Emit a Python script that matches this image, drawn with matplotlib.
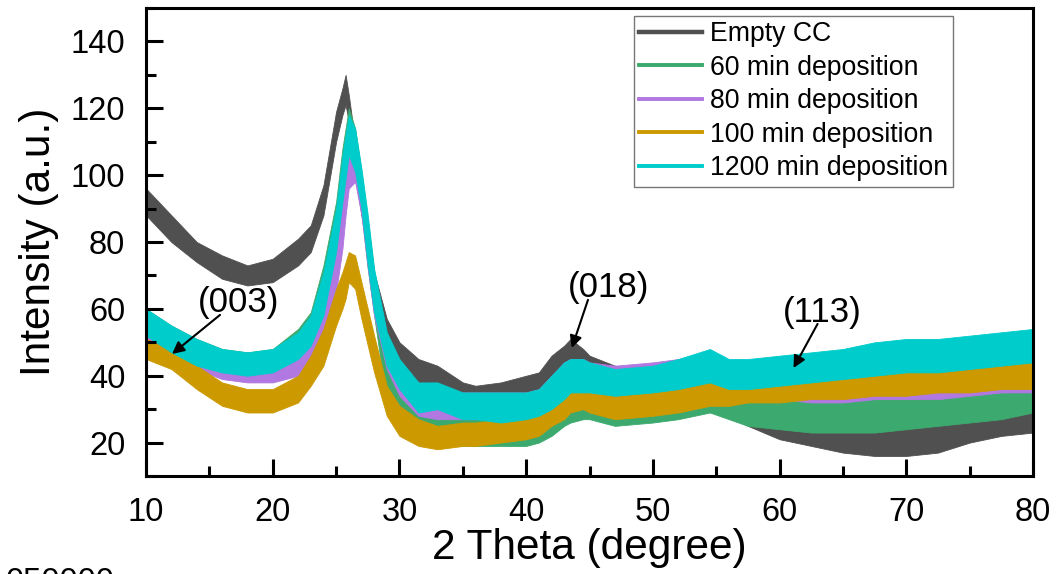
import matplotlib
matplotlib.use("Agg")
import matplotlib.pyplot as plt

plt.rcParams['font.family'] = ['Liberation Sans', 'DejaVu Sans']

two_theta = [10, 12, 14, 16, 18, 20, 22, 23, 24, 25, 25.5, 25.75, 26, 26.5, 27, 27.5, 28,
             29, 30, 31.5, 33, 35, 36, 38, 40, 41, 42, 43, 43.5, 44.5, 45, 47, 50,
             52, 54.5, 56, 57.5, 60, 62.5, 65, 67.5, 70, 72.5, 75, 77.5, 80]

# lower / upper edge of each noisy trace (a.u.)
empty_lo = [88, 80, 74, 69, 67, 68, 73, 77, 88, 110, 118, 121, 116, 100, 88, 76, 63,
            49, 42, 38, 35, 32, 32, 31, 33, 35, 38, 42, 43, 42, 40, 37, 35,
            34, 31, 28, 25, 21, 19, 17, 16, 16, 17, 20, 22, 23]
empty_hi = [96, 88, 80, 76, 73, 75, 81, 85, 97, 119, 126, 130, 124, 110, 98, 86, 71,
            57, 50, 45, 43, 38, 37, 38, 40, 41, 46, 49, 51, 48, 46, 43, 41,
            40, 39, 35, 32, 29, 27, 25, 25, 26, 27, 29, 31, 31]

dep60_lo = [52, 47, 43, 41, 40, 41, 45, 50, 60, 79, 94, 100, 107, 101, 89, 72, 58,
            32, 26, 21, 20, 19, 19, 19, 19, 20, 22, 25, 26, 27, 27, 25, 26,
            27, 29, 27, 25, 24, 23, 23, 23, 24, 25, 26, 27, 29]
dep60_hi = [60, 55, 51, 48, 47, 48, 54, 59, 73, 92, 108, 114, 120, 114, 101, 86, 70,
            50, 40, 34, 32, 31, 31, 31, 31, 32, 34, 38, 40, 40, 40, 38, 38,
            39, 41, 37, 33, 33, 32, 32, 33, 33, 34, 35, 36, 37]

dep80_lo = [51, 46, 42, 39, 38, 38, 40, 43, 50, 65, 78, 88, 96, 98, 88, 72, 58,
            42, 34, 28, 27, 27, 27, 27, 27, 28, 30, 33, 35, 36, 36, 35, 35,
            36, 37, 35, 34, 33, 32, 32, 33, 33, 33, 34, 35, 35]
dep80_hi = [58, 54, 50, 47, 45, 45, 48, 52, 62, 80, 92, 101, 109, 106, 98, 86, 70,
            52, 43, 36, 35, 35, 35, 35, 35, 36, 40, 44, 45, 45, 44, 43, 44,
            45, 47, 44, 42, 42, 43, 43, 44, 44, 45, 46, 46, 47]

dep100_lo = [45, 42, 36, 31, 29, 29, 32, 37, 43, 55, 60, 63, 68, 66, 57, 49, 41,
             28, 22, 19, 18, 19, 19, 20, 21, 22, 25, 27, 29, 30, 29, 27, 28,
             29, 31, 31, 32, 32, 33, 33, 34, 34, 35, 35, 36, 36]
dep100_hi = [51, 48, 43, 38, 36, 36, 40, 46, 54, 66, 71, 74, 77, 76, 68, 60, 52,
             37, 31, 27, 25, 26, 26, 27, 28, 29, 32, 34, 35, 36, 35, 34, 35,
             36, 39, 38, 40, 39, 39, 41, 41, 42, 42, 42, 43, 45]

dep1200_lo = [52, 47, 43, 41, 40, 41, 45, 49, 58, 77, 92, 99, 106, 101, 90, 73, 59,
              43, 36, 29, 30, 27, 27, 26, 27, 28, 30, 33, 35, 35, 35, 34, 35,
              36, 38, 36, 36, 37, 38, 39, 40, 41, 41, 42, 43, 44]
dep1200_hi = [60, 55, 51, 48, 47, 48, 53, 58, 71, 90, 106, 112, 118, 114, 102, 88, 72,
              53, 45, 38, 38, 35, 35, 35, 35, 36, 40, 44, 45, 45, 44, 42, 43,
              45, 48, 45, 45, 46, 47, 48, 50, 51, 51, 52, 53, 54]

labels = ['Empty CC', '60 min deposition', '80 min deposition',
          '100 min deposition', '1200 min deposition']
colors = ['#505050', '#3CAA6E', '#B078E0', '#CC9900', '#00CCCC']
bands = [(empty_lo, empty_hi), (dep60_lo, dep60_hi), (dep80_lo, dep80_hi),
         (dep100_lo, dep100_hi), (dep1200_lo, dep1200_hi)]

peaks = ['(003)', '(018)', '(113)']
peak_tip = [(12.05, 46.5), (43.6, 48.3), (61.1, 42.3)]
peak_tail = [(15.84, 58.2), (44.88, 62.7), (63.0, 55.5)]
peak_text = [(17.3, 62.0), (46.5, 66.5), (63.4, 58.8)]

fig = plt.figure(figsize=(10.56, 5.74), dpi=100)
ax = fig.add_axes([0.1383, 0.1707, 0.8399, 0.8153])

for (lo, hi), c, lab in zip(bands, colors, labels):
    ax.fill_between(two_theta, lo, hi, color=c, lw=0.6, edgecolor=c)
    ax.plot([], [], color=c, lw=3.2 if lab == 'Empty CC' else 2.8, label=lab)

for name, tip, tail, txt in zip(peaks, peak_tip, peak_tail, peak_text):
    ax.text(txt[0], txt[1], name, fontsize=25, ha='center', va='center')
    ax.annotate('', xy=tip, xytext=tail,
                arrowprops=dict(arrowstyle='-|>', color='black', lw=1.5,
                                mutation_scale=18, shrinkA=0, shrinkB=0))

ax.set_xlim(10, 80)
ax.set_ylim(10, 150)
ax.set_xticks([10, 20, 30, 40, 50, 60, 70, 80])
ax.set_xticks([15, 25, 35, 45, 55, 65, 75], minor=True)
ax.set_yticks([20, 40, 60, 80, 100, 120, 140])
ax.set_yticks([10, 30, 50, 70, 90, 110, 130, 150], minor=True)
ax.tick_params(which='both', direction='in', width=2.2, labelsize=23.5,
               top=False, right=False)
ax.tick_params(which='major', length=12, pad=15)
ax.tick_params(which='minor', length=7)
for sp in ax.spines.values():
    sp.set_linewidth(2.2)

ax.set_xlabel('2 Theta (degree)', fontsize=30.5, labelpad=0)
ax.set_ylabel('Intensity (a.u.)', fontsize=30.5, labelpad=8)

leg = ax.legend(loc='upper right', bbox_to_anchor=(0.91, 0.983), borderaxespad=0,
                fontsize=19.2, frameon=True, fancybox=False, handlelength=2.35,
                handletextpad=0.3, borderpad=0.2, labelspacing=0.28)
leg.get_frame().set_edgecolor('#555555')
leg.get_frame().set_linewidth(1.0)

fig.text(0.005, 0.013, '050000', fontsize=23.5, va='top', ha='left')

fig.savefig('out.png', dpi=100)
